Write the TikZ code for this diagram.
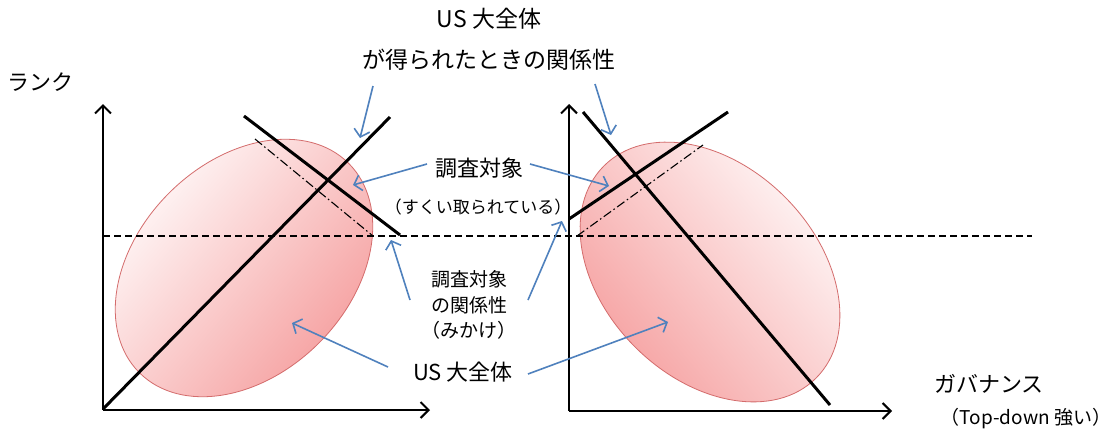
\documentclass[tikz,border=0pt]{standalone}
\usepackage{fontspec}
\setmainfont{Noto Sans CJK JP}
\usetikzlibrary{arrows.meta}
\definecolor{bl}{RGB}{79,129,189}
\definecolor{pk}{RGB}{245,155,155}
\definecolor{pkl}{RGB}{255,252,252}
\definecolor{pko}{RGB}{212,108,108}
\begin{document}
\begin{tikzpicture}[x=1pt,y=-1pt,
  axisline/.style={line width=2pt,-{Straight Barb[length=8pt,width=16pt,line width=2pt]}},
  mainline/.style={line width=3pt},
  dashdotline/.style={line width=1.1pt,dash pattern=on 9pt off 3pt on 1.5pt off 3pt},
  dashline/.style={line width=1.1pt,dash pattern=on 7pt off 4pt},
  bluearrow/.style={bl,line width=1.6pt,-{Straight Barb[length=7pt,width=16pt,line width=1.6pt]}},
  blob/.style={draw=pko,line width=0.8pt,top color=pkl,bottom color=pk},
  big/.style={font=\fontsize{22}{26}\selectfont,inner sep=0pt},
  top/.style={font=\fontsize{23}{27}\selectfont,inner sep=0pt},
  mid/.style={font=\fontsize{19}{23}\selectfont,inner sep=0pt},
  small/.style={font=\fontsize{17}{20}\selectfont,inner sep=0pt}]
\useasboundingbox (0,0) rectangle (1114,437);
\fill[white] (0,0) rectangle (1114,437);

% ellipses
\shadedraw[blob,shading angle=50,rotate around={45:(244,268)}] (244,268) ellipse [x radius=148pt, y radius=106pt];
\shadedraw[blob,shading angle=-50,rotate around={-45:(710,272)}] (710,272) ellipse [x radius=150pt, y radius=106pt];

% axes
\coordinate (o1) at (103,410);
\coordinate (y1) at (103,104);
\coordinate (x1) at (430,410);
\coordinate (o2) at (569,411);
\coordinate (y2) at (569,104);
\coordinate (x2) at (892,411);
\draw[axisline] (o1) -- (y1);
\draw[axisline] (o1) -- (x1);
\draw[axisline] (o2) -- (y2);
\draw[axisline] (o2) -- (x2);

% dashed horizontal
\coordinate (h1) at (103,236);
\coordinate (h2) at (1032,236);
\draw[dashline] (h1) -- (h2);

% left lines
\coordinate (la1) at (103,409);
\coordinate (la2) at (390,117);
\coordinate (lb1) at (244,116);
\coordinate (lb2) at (400,235);
\coordinate (lc1) at (255,139);
\coordinate (lc2) at (373,236);
\draw[mainline] (la1) -- (la2);
\draw[mainline] (lb1) -- (lb2);
\draw[dashdotline] (lc1) -- (lc2);

% right lines
\coordinate (ra1) at (583,112);
\coordinate (ra2) at (830,405);
\coordinate (rb1) at (569,219);
\coordinate (rb2) at (728,112);
\coordinate (rc1) at (577,236);
\coordinate (rc2) at (703,145);
\draw[mainline] (ra1) -- (ra2);
\draw[mainline] (rb1) -- (rb2);
\draw[dashdotline] (rc1) -- (rc2);

% texts
\node[top] (t1) at (489,19) {US 大全体};
\node[top] (t2) at (489,60) {が得られたときの関係性};
\node[big] (rank) at (40,82) {ランク};
\node[big] (obj) at (479,168) {調査対象};
\node[small] (scoop) at (478,207) {（すくい取られている）};
\node[mid] (obj2) at (469,279) {調査対象};
\node[mid] (rel) at (469,305) {の関係性};
\node[mid] (look) at (469,330) {（みかけ）};
\node[big] (us) at (463,372) {US 大全体};
\node[big] (gov) at (989,384) {ガバナンス};
\node[small,font=\fontsize{19}{22}\selectfont] (td) at (1026,419) {（Top-down 強い）};

% blue arrows
\coordinate (a1s) at (373,86);   \coordinate (a1e) at (360,138);
\coordinate (a2s) at (595,84);   \coordinate (a2e) at (611,135);
\coordinate (a3s) at (427,164);  \coordinate (a3e) at (353,185);
\coordinate (a4s) at (530,164);  \coordinate (a4e) at (609,186);
\coordinate (a5s) at (410,300);  \coordinate (a5e) at (391,240);
\coordinate (a6s) at (528,300);  \coordinate (a6e) at (562,221);
\coordinate (a7s) at (388,367);  \coordinate (a7e) at (292,323);
\coordinate (a8s) at (528,374);  \coordinate (a8e) at (668,322);
\draw[bluearrow] (a1s) -- (a1e);
\draw[bluearrow] (a2s) -- (a2e);
\draw[bluearrow] (a3s) -- (a3e);
\draw[bluearrow] (a4s) -- (a4e);
\draw[bluearrow] (a5s) -- (a5e);
\draw[bluearrow] (a6s) -- (a6e);
\draw[bluearrow] (a7s) -- (a7e);
\draw[bluearrow] (a8s) -- (a8e);
\end{tikzpicture}
\end{document}
